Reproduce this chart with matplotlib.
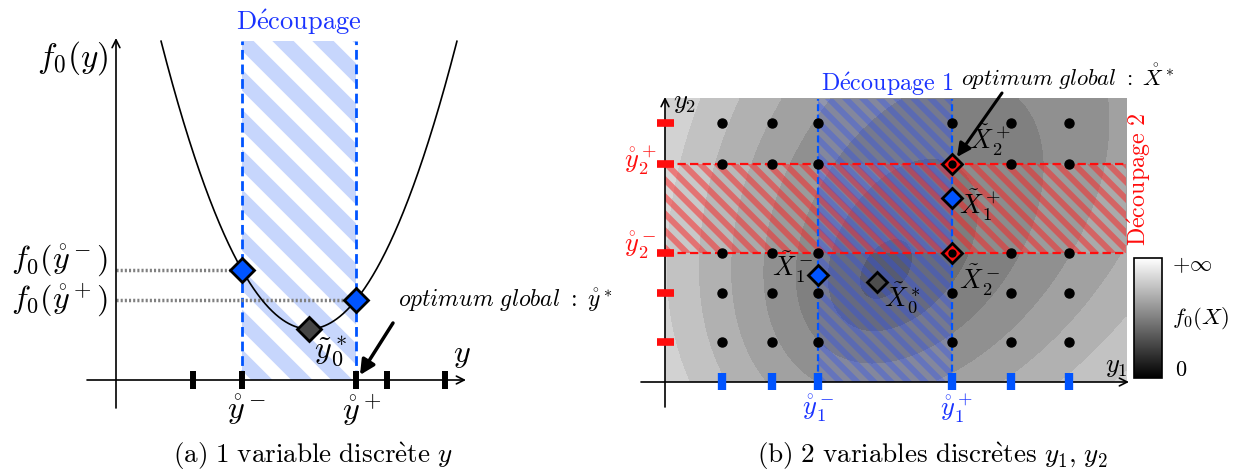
import numpy as np
import matplotlib.pyplot as plt
from matplotlib.patches import Rectangle
from matplotlib.collections import LineCollection
from matplotlib.cm import ScalarMappable
from matplotlib.colors import Normalize

plt.rcParams['mathtext.fontset'] = 'cm'
plt.rcParams['font.family'] = ['cmr10', 'DejaVu Serif']
plt.rcParams['lines.scale_dashes'] = False

# (a) one discrete variable y
y_discrete = [1.93, 3.15, 6.0, 6.78, 8.23]
y_minus, y_plus = 3.15, 6.0
f0_argmin, f0_min, f0_curv = 4.825, 1.275, 0.526
f0_top = 8.475

# (b) two discrete variables y1, y2
y1_discrete = [1.43, 2.68, 3.83, 7.18, 8.65, 10.1]
y2_discrete = [1.0, 2.23, 3.23, 5.45, 6.48]
y1_minus, y1_plus = 3.83, 7.18
y2_minus, y2_plus = 3.23, 5.45
X1_minus = (3.83, 2.68)
X1_plus = (7.18, 4.6)
X2_minus = (7.18, 3.23)
X2_plus = (7.18, 5.45)
X0_star = (5.3, 2.5)
y1_max, y2_max = 11.53, 7.08

BLUE = (0.0, 0.33, 1.0)
BLUE_TXT = (0.1, 0.2, 1.0)
RED = (1.0, 0.05, 0.05)


def f0(y):
    return f0_min + f0_curv * (np.asarray(y) - f0_argmin) ** 2


def f0_2d(x, y):
    # grey level of the illustrative objective (0.35 at the optimum)
    dx, dy = x - X0_star[0], y - X0_star[1]
    th = np.deg2rad(55)
    u = dx * np.cos(th) + dy * np.sin(th)
    v = -dx * np.sin(th) + dy * np.cos(th)
    return 0.35 + 0.072 * np.sqrt((u / 1.35) ** 2 + v ** 2) - 0.025 * u


def stripes(ax, x0, x1, y0, y1, period, lw, color, alpha=1.0, z=1):
    clip = Rectangle((x0, y0), x1 - x0, y1 - y0, transform=ax.transData)
    h = y1 - y0
    segs = [[(c - 1, y1 + 1), (c + h + 1, y0 - 1)]
            for c in np.arange(x0 - h - 2, x1 + 2, period)]
    lc = LineCollection(segs, linewidths=lw, colors=[color], alpha=alpha, zorder=z)
    ax.add_collection(lc)
    lc.set_clip_path(clip)


def arrow(ax, tail, head, style='->', lw=1.2, ms=14):
    ax.annotate('', xy=head, xytext=tail,
                arrowprops=dict(arrowstyle=style, lw=lw, color='k',
                                shrinkA=0, shrinkB=0, mutation_scale=ms))


fig = plt.figure(figsize=(12.34, 4.73), dpi=100)

# ---------------- (a) ----------------
ax1 = fig.add_axes([0, 0, 0.5, 1])
ax1.set_xlim(-2.9, 12.525)
ax1.set_ylim(-2.325, 9.5)
ax1.axis('off')

ax1.add_patch(Rectangle((y_minus, 0), y_plus - y_minus, f0_top,
                        fc=(0.78, 0.84, 0.99), ec='none', zorder=1))
stripes(ax1, y_minus, y_plus, 0, f0_top, 1.0, 9.5, 'white', z=1.5)

yy = np.linspace(0, 10, 800)
ff = f0(yy)
ok = ff <= f0_top
ax1.plot(yy[ok], ff[ok], color='k', lw=1.2, zorder=3)

for v in (y_minus, y_plus):
    ax1.plot([v, v], [0, f0_top], color=BLUE, lw=2, ls=(0, (7, 3.5)), zorder=2)
for v in (y_minus, y_plus):
    ax1.plot([0, v], [f0(v), f0(v)], color='0.5', lw=2.5, ls=(0, (1.5, 1.5)), zorder=2)

arrow(ax1, (-0.725, 0), (8.75, 0))
arrow(ax1, (0, -0.7), (0, 8.55))
ax1.vlines(y_discrete, -0.22, 0.22, colors='k', lw=4.3, zorder=4)

ax1.plot([y_minus, y_plus], [f0(y_minus), f0(y_plus)], 'D', ms=12,
         mfc=BLUE, mec='k', mew=2, zorder=5)
ax1.plot([f0_argmin], [f0_min], 'D', ms=12, mfc='0.27', mec='k', mew=2, zorder=5)

ax1.text(4.575, 8.95, r"$\mathrm{D\acute{e}coupage}$", color=BLUE_TXT,
         fontsize=19, ha='center', va='center')
ax1.text(-0.2, 8.05, r"$f_0(y)$", fontsize=24, ha='right', va='center')
ax1.text(-0.2, 2.98, r"$f_0(\mathring{y}^-)$", fontsize=23, ha='right', va='center')
ax1.text(-0.2, 2.0, r"$f_0(\mathring{y}^+)$", fontsize=23, ha='right', va='center')
ax1.text(y_minus + 0.1, -0.75, r"$\mathring{y}^-$", fontsize=23, ha='center', va='center')
ax1.text(y_plus + 0.15, -0.75, r"$\mathring{y}^+$", fontsize=23, ha='center', va='center')
ax1.text(8.65, 0.6, r"$y$", fontsize=23, ha='center', va='center')
ax1.text(5.35, 0.7, r"$\tilde{y}_0^*$", fontsize=23, ha='center', va='center')
ax1.text(7.05, 2.0, r"$\mathit{optimum}\ \mathit{global}\ \mathrm{:}\ \mathring{y}^*$",
         fontsize=17, ha='left', va='center')
arrow(ax1, (6.925, 1.425), (6.1, 0.125), style='-|>', lw=2.5, ms=22)

# ---------------- (b) ----------------
ax2 = fig.add_axes([0.5, 0, 0.5, 1])
ax2.set_xlim(-1.2, 14.225)
ax2.set_ylim(-2.275, 9.55)
ax2.axis('off')

gx, gy = np.meshgrid(np.linspace(0, y1_max, 400), np.linspace(0, y2_max, 300))
field = f0_2d(gx, gy)
levels = np.arange(0.32, 1.1, 0.065)
greys = [str(min(lv + 0.05, 0.92)) for lv in levels[:-1]]
ax2.contourf(gx, gy, field, levels=levels, colors=greys, zorder=0)

ax2.add_patch(Rectangle((0, y2_minus), y1_max, y2_plus - y2_minus,
                        fc='white', alpha=0.1, ec='none', zorder=1))
stripes(ax2, 0, y1_max, y2_minus, y2_plus, 0.425, 4.3, (1, 0.12, 0.12), 0.5, 1.2)
ax2.add_patch(Rectangle((y1_minus, 0), y1_plus - y1_minus, y2_max,
                        fc=(0.15, 0.3, 1.0), alpha=0.12, ec='none', zorder=1.4))
stripes(ax2, y1_minus, y1_plus, 0, y2_max, 0.425, 4.3, (0.15, 0.3, 1.0), 0.32, 1.5)

for v in (y1_minus, y1_plus):
    ax2.plot([v, v], [0, y2_max], color=BLUE, lw=1.6, ls=(0, (5, 2.5)), zorder=2)
for v in (y2_minus, y2_plus):
    ax2.plot([0, y1_max], [v, v], color=RED, lw=1.6, ls=(0, (6, 3)), zorder=2)

arrow(ax2, (-0.6, 0), (11.6, 0))
arrow(ax2, (0, -0.625), (0, 7.125))
ax2.vlines(y1_discrete, -0.2, 0.22, colors=[BLUE], lw=6, zorder=4)
ax2.hlines(y2_discrete, -0.2, 0.225, colors=[RED], lw=5.5, zorder=4)

P1, P2 = np.meshgrid(y1_discrete, y2_discrete)
ax2.plot(P1.ravel(), P2.ravel(), 'o', color='k', ms=6.5, zorder=4)

ax2.plot([X1_minus[0], X1_plus[0]], [X1_minus[1], X1_plus[1]], 'D', ms=10,
         mfc=BLUE, mec='k', mew=2, zorder=5)
ax2.plot([X2_minus[0], X2_plus[0]], [X2_minus[1], X2_plus[1]], 'D', ms=10,
         mfc=RED, mec='k', mew=2, zorder=5)
ax2.plot([X2_minus[0], X2_plus[0]], [X2_minus[1], X2_plus[1]], 'o', color='k',
         ms=5, zorder=6)
ax2.plot([X0_star[0]], [X0_star[1]], 'D', ms=10, mfc='0.3', mec='k', mew=2, zorder=5)

ax2.text(5.55, 7.45, r"$\mathrm{D\acute{e}coupage\ 1}$", color=BLUE_TXT,
         fontsize=17.3, ha='center', va='center')
ax2.text(11.85, 5.05, r"$\mathrm{D\acute{e}coupage\ 2}$", color=RED,
         fontsize=17.3, ha='center', va='center', rotation=90)
ax2.text(7.4, 7.625, r"$\mathit{optimum}\ \mathit{global}\ \mathrm{:}\ \mathring{X}^*$",
         fontsize=16.3, ha='left', va='center')
arrow(ax2, (8.425, 7.225), (7.3, 5.625), style='-|>', lw=2.2, ms=20)

ax2.text(-0.625, 5.55, r"$\mathring{y}_2^+$", color=RED, fontsize=19, ha='center', va='center')
ax2.text(-0.625, 3.425, r"$\mathring{y}_2^-$", color=RED, fontsize=19, ha='center', va='center')
ax2.text(y1_minus, -0.65, r"$\mathring{y}_1^-$", color=BLUE_TXT, fontsize=19, ha='center', va='center')
ax2.text(y1_plus + 0.1, -0.65, r"$\mathring{y}_1^+$", color=BLUE_TXT, fontsize=19, ha='center', va='center')
ax2.text(0.5, 6.975, r"$y_2$", fontsize=19, ha='center', va='center')
ax2.text(11.275, 0.375, r"$y_1$", fontsize=19, ha='center', va='center')
ax2.text(8.125, 6.05, r"$\tilde{X}_2^+$", fontsize=19, ha='center', va='center')
ax2.text(7.875, 4.425, r"$\tilde{X}_1^+$", fontsize=19, ha='center', va='center')
ax2.text(3.2, 2.875, r"$\tilde{X}_1^-$", fontsize=19, ha='center', va='center')
ax2.text(7.875, 2.55, r"$\tilde{X}_2^-$", fontsize=19, ha='center', va='center')
ax2.text(5.925, 2.1, r"$\tilde{X}_0^*$", fontsize=19, ha='center', va='center')

cax = fig.add_axes([1134 / 1234, 1 - 378 / 473, 28 / 1234, 120 / 473])
cb = fig.colorbar(ScalarMappable(Normalize(0, 1), 'gray'), cax=cax)
cb.set_ticks([])
cb.outline.set_linewidth(1.2)
ax2.text(12.675, 2.925, r"$+\infty$", fontsize=16, ha='left', va='center')
ax2.text(12.675, 1.6, r"$f_0(X)$", fontsize=16.5, ha='left', va='center')
ax2.text(12.75, 0.3, r"$0$", fontsize=16, ha='left', va='center')

fig.text(313 / 1234, 1 - 456 / 473, r"$\mathrm{(a)\ 1\ variable\ discr\grave{e}te}\ y$",
         fontsize=19.5, ha='center', va='center')
fig.text(932 / 1234, 1 - 456 / 473,
         r"$\mathrm{(b)\ 2\ variables\ discr\grave{e}tes}\ y_1\mathrm{,}\ y_2$",
         fontsize=19.5, ha='center', va='center')

fig.savefig('out.png', dpi=100)
